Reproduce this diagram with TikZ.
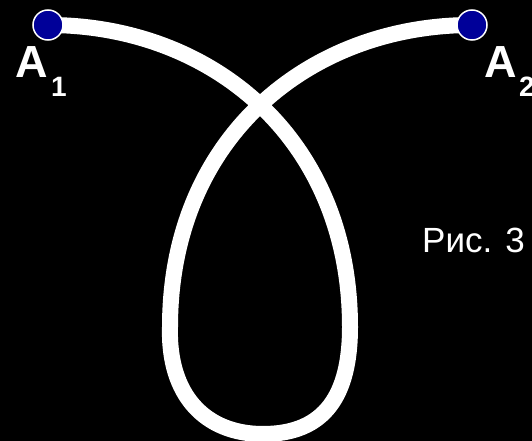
\documentclass[tikz,border=0pt]{standalone}
\usepackage{fontspec}
\setmainfont{Liberation Sans}
\definecolor{ptblue}{RGB}{0,0,153}
\begin{document}
\begin{tikzpicture}[x=1pt,y=-1pt,
  curve/.style={white,line width=16pt},
  pt/.style={circle,fill=ptblue,draw=white,line width=1.5pt,minimum size=30pt,inner sep=0pt},
  lbl/.style={white,inner sep=0pt,anchor=base west,font=\fontsize{45}{54}\selectfont\bfseries},
  sub/.style={white,inner sep=0pt,anchor=base west,font=\fontsize{28}{34}\selectfont\bfseries},
  captext/.style={white,inner sep=0pt,anchor=base west,font=\fontsize{35}{42}\selectfont}]
\fill[black] (0,0) rectangle (532,441);
\useasboundingbox (0,0) rectangle (532,441);
\coordinate (p1) at (48,25);
\coordinate (p2) at (472,25);
\coordinate (r) at (350,327);
\coordinate (l) at (170,327);
\coordinate (b) at (263,434);
\draw[curve] (p1) .. controls (211,25) and (350,138) .. (r)
  .. controls (350,395) and (325,434) .. (b)
  .. controls (205,434) and (168,395) .. (l)
  .. controls (170,138) and (309,25) .. (p2);
\node[pt] (A1) at (p1) {};
\node[pt] (A2) at (p2) {};
\node[lbl] (tA1) at (15,78) {A};
\node[sub] (s1) at (51,97) {1};
\node[lbl] (tA2) at (484,78) {A};
\node[sub] (s2) at (519,97) {2};
\node[captext] (ris) at (422,252) {Рис. 3};
\end{tikzpicture}
\end{document}
